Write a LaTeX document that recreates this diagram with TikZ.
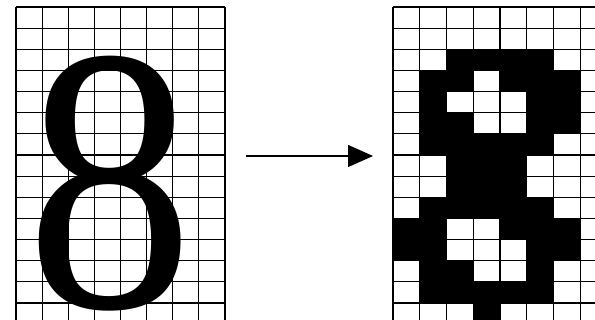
\documentclass[tikz,border=0pt]{standalone}
\usepackage{fontspec}
\setmainfont{Liberation Serif}
\usetikzlibrary{arrows.meta}
\tikzset{
  gridline/.style={black, line width=1.1pt},
  cellfill/.style={fill=black},
  digitnode/.style={inner sep=0pt, outer sep=0pt, anchor=base, font=\fontsize{378}{378}\selectfont},
  conn/.style={black, line width=1.3pt, -{Triangle[length=25pt,width=22pt]}}
}
\begin{document}
\begin{tikzpicture}[x=1pt,y=-1pt]
\useasboundingbox (0,0) rectangle (595,320);
\fill[white] (0,0) rectangle (595,320);
\begin{scope}
\clip (0,0) rectangle (595,320);
% left grid
\foreach \i in {0,...,8}
  \draw[gridline] ({16+26.125*\i},7) -- ({16+26.125*\i},330);
\foreach \j in {0,...,14}
  \draw[gridline] (16,{7+21.14*\j}) -- (225,{7+21.14*\j});
% right grid black cells
\foreach \c/\r in {2/2,3/2,4/2,5/2,
                   1/3,2/3,4/3,5/3,6/3,
                   1/4,5/4,6/4,
                   1/5,2/5,5/5,6/5,
                   1/6,2/6,3/6,4/6,5/6,
                   2/7,3/7,4/7,
                   2/8,3/8,4/8,
                   1/9,2/9,3/9,4/9,5/9,
                   0/10,1/10,4/10,5/10,6/10,
                   0/11,1/11,5/11,6/11,
                   1/12,2/12,5/12,
                   1/13,2/13,3/13,4/13,5/13,
                   3/14}
  \fill[cellfill] ({393+26.75*\c},{7+21.14*\r}) rectangle ({393+26.75*(\c+1)},{7+21.14*(\r+1)});
\foreach \i in {0,...,8}
  \draw[gridline] ({393+26.75*\i},7) -- ({393+26.75*\i},330);
\foreach \j in {0,...,14}
  \draw[gridline] (393,{7+21.14*\j}) -- (610,{7+21.14*\j});
\end{scope}
% digit
\node[digitnode] (digit) at (110,307.5) {\scalebox{0.885}[1]{8}};
% arrow
\coordinate (arrowstart) at (246,156);
\coordinate (arrowend) at (373,156);
\draw[conn] (arrowstart) -- (arrowend);
\end{tikzpicture}
\end{document}
